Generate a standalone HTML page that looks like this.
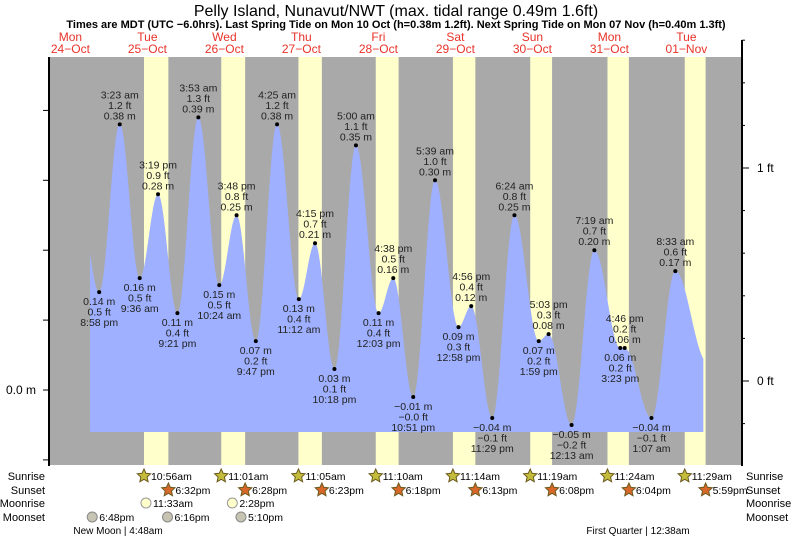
<!DOCTYPE html>
<html><head><meta charset="utf-8"><style>
body{margin:0;background:#fff;}
svg{display:block;font-family:"Liberation Sans",sans-serif;}
</style></head><body>
<svg id="c" width="793" height="539" viewBox="0 0 793 539">
<text x="396" y="16" text-anchor="middle" font-size="16" fill="#000">Pelly Island, Nunavut/NWT (max. tidal range 0.49m 1.6ft)</text>
<text x="396" y="28" text-anchor="middle" font-size="11" font-weight="bold" fill="#000">Times are MDT (UTC −6.0hrs). Last Spring Tide on Mon 10 Oct (h=0.38m 1.2ft). Next Spring Tide on Mon 07 Nov (h=0.40m 1.3ft)</text>
<g id="g"></g>
</svg>
<script>
// time in days since 25-Oct 00:00
const dayNames=["Mon","Tue","Wed","Thu","Fri","Sat","Sun","Mon","Tue"];
const dayDates=["24−Oct","25−Oct","26−Oct","27−Oct","28−Oct","29−Oct","30−Oct","31−Oct","01−Nov"];
const tideTimes=["-1 15:00","-1 20:58","0 03:23","0 09:36","0 15:19","0 21:21","1 03:53","1 10:24","1 15:48","1 21:47","2 04:25","2 11:12","2 16:15","2 22:18","3 05:00","3 12:03","3 16:38","3 22:51","4 05:39","4 12:58","4 16:56","4 23:29","5 06:24","5 13:59","5 17:03","6 00:13","6 07:19","6 15:23","6 16:46","7 01:07","7 08:33","7 18:30"];
const tideHeights=[0.26,0.14,0.38,0.16,0.28,0.11,0.39,0.15,0.25,0.07,0.38,0.13,0.21,0.03,0.35,0.11,0.16,-0.01,0.30,0.09,0.12,-0.04,0.25,0.07,0.08,-0.05,0.20,0.06,0.06,-0.04,0.17,0.04];
const tideTypes=["H","L","H","L","H","L","H","L","H","L","H","L","H","L","H","L","H","L","H","L","H","L","H","L","H","L","H","L","H","L","H","L"];
const tideLabels=["","8:58 pm","3:23 am","9:36 am","3:19 pm","9:21 pm","3:53 am","10:24 am","3:48 pm","9:47 pm","4:25 am","11:12 am","4:15 pm","10:18 pm","5:00 am","12:03 pm","4:38 pm","10:51 pm","5:39 am","12:58 pm","4:56 pm","11:29 pm","6:24 am","1:59 pm","5:03 pm","12:13 am","7:19 am","3:23 pm","4:46 pm","1:07 am","8:33 am",""];
const dataStart="-1 18:07", dataEnd="7 17:17";
const sunrise=["0 10:56","1 11:01","2 11:05","3 11:10","4 11:14","5 11:19","6 11:24","7 11:29"];
const sunriseLbl=["10:56am","11:01am","11:05am","11:10am","11:14am","11:19am","11:24am","11:29am"];
const sunset=["0 18:32","1 18:28","2 18:23","3 18:18","4 18:13","5 18:08","6 18:04","7 17:59"];
const sunsetLbl=["6:32pm","6:28pm","6:23pm","6:18pm","6:13pm","6:08pm","6:04pm","5:59pm"];
const moonrise=["0 11:33","1 14:28"];
const moonriseLbl=["11:33am","2:28pm"];
const moonset=["-1 18:48","0 18:16","1 17:10"];
const moonsetLbl=["6:48pm","6:16pm","5:10pm"];
const mTicks=[-0.1,0,0.1,0.2,0.3,0.4];
const ftTicks=[-0.2,0,0.2,0.4,0.6,0.8,1,1.2,1.4,1.6];

const X0=108.9, PXD=77, L=49, R=742, T=57, B=465, FILLB=432;
const pt=s=>{const [d,hm]=s.split(" ");const [h,m]=hm.split(":");return +d+(+h+ +m/60)/24;};
const x=t=>X0+PXD*t;
const ym=v=>390-699*v;
const yft=v=>381-213*v;
const NS="http://www.w3.org/2000/svg";
const g=document.getElementById("g");
function mk(tag,at,txt){const e=document.createElementNS(NS,tag);for(const k in at)e.setAttribute(k,at[k]);if(txt!==undefined)e.textContent=txt;g.appendChild(e);return e;}

let e=mk("rect",{x:L,y:T,width:R-L,height:B-T,fill:"#a9a9a9"});

for(let i=0;i<sunrise.length;i++){
 const a=x(pt(sunrise[i])),b=x(pt(sunset[i]));
 e=mk("rect",{x:a,y:T,width:b-a,height:B-T,fill:"#ffffcc"});
 
}
const ts=tideTimes.map(pt);
function h(t){for(let i=0;i<ts.length-1;i++){if(t>=ts[i]&&t<=ts[i+1]){const f=(t-ts[i])/(ts[i+1]-ts[i]);return tideHeights[i]+(tideHeights[i+1]-tideHeights[i])*(1-Math.cos(Math.PI*f))/2;}}return tideHeights[tideHeights.length-1];}
const t0=pt(dataStart),t1=pt(dataEnd);
let d=`M${x(t0)},${FILLB}`;
for(let px=x(t0);px<=x(t1);px+=0.5){d+=` L${px.toFixed(1)},${ym(h((px-X0)/PXD)).toFixed(1)}`;}
d+=` L${x(t1)},${ym(h(t1)).toFixed(1)} L${x(t1)},${FILLB} Z`;
e=mk("path",{d:d,fill:"#9eb0ff"});


const fmt=v=>{let s=v.toFixed(1);if(s.startsWith("-"))s="−"+s.slice(1);if(v<0&&s==="0.0")s="−0.0";return s;};
const fmtm=v=>{let s=v.toFixed(2);if(s.startsWith("-"))s="−"+s.slice(1);return s;};
for(let i=1;i<ts.length-1;i++){
 const px=x(ts[i]),py=ym(tideHeights[i]);
 const high=tideTypes[i]==="H";
 e=mk("circle",{cx:px,cy:py,r:2,fill:"#000"});
 
 const lines=high?[tideLabels[i],fmt(tideHeights[i]/0.3048)+" ft",fmtm(tideHeights[i])+" m"]:[fmtm(tideHeights[i])+" m",fmt(tideHeights[i]/0.3048)+" ft",tideLabels[i]];
 lines.forEach((s,k)=>{
  const yy=high?py-5-(2-k)*10.5:py+13+k*10.5;
  e=mk("text",{x:px,y:yy,"text-anchor":"middle","font-size":"10.5",fill:"#222"},s);
  
 });
}
e=mk("line",{x1:L,y1:T,x2:L,y2:B+1,stroke:"#000","stroke-width":2});

e=mk("line",{x1:R,y1:40,x2:R,y2:B+1,stroke:"#000","stroke-width":2});

mTicks.forEach(v=>{e=mk("line",{x1:L-6,y1:ym(v),x2:L,y2:ym(v),stroke:"#000"});
 });
e=mk("text",{x:36,y:ym(0)+4,"text-anchor":"end","font-size":"12",fill:"#000"},"0.0 m");

ftTicks.forEach(v=>{e=mk("line",{x1:R,y1:yft(v),x2:R+(Math.abs(v%1)<1e-9?7:3),y2:yft(v),stroke:"#000"});
 });
e=mk("text",{x:757,y:yft(0)+4,"font-size":"12",fill:"#000"},"0 ft");

e=mk("text",{x:757,y:yft(1)+4,"font-size":"12",fill:"#000"},"1 ft");

dayNames.forEach((n,i)=>{const cx=x(i-1+0.5);
 e=mk("text",{x:cx,y:41,"text-anchor":"middle","font-size":"12",fill:"#e8332a"},n);
 
 e=mk("text",{x:cx,y:53,"text-anchor":"middle","font-size":"12",fill:"#e8332a"},dayDates[i]);
 
});
const rows=["Sunrise","Sunset","Moonrise","Moonset"],ry=[480,494,507,521];
rows.forEach((r,i)=>{
 e=mk("text",{x:45,y:ry[i],"text-anchor":"end","font-size":"11",fill:"#000"},r);
 
 e=mk("text",{x:746,y:ry[i],"font-size":"11",fill:"#000"},r);
 
});
function star(cx,cy,fill){let p="";for(let k=0;k<10;k++){const a=-Math.PI/2+k*Math.PI/5,r=k%2?3.3:7;p+=(cx+r*Math.cos(a)).toFixed(1)+","+(cy+r*Math.sin(a)).toFixed(1)+" ";}
 return mk("polygon",{points:p,fill:fill,stroke:"#6b5a1e","stroke-width":1});}
sunrise.forEach((s,i)=>{const px=x(pt(s));
 e=star(px,ry[0]-4,"#c4bd3c");
 e=mk("text",{x:px+7,y:ry[0],"font-size":"10.5",fill:"#000"},sunriseLbl[i]);});
sunset.forEach((s,i)=>{const px=x(pt(s));
 e=star(px,ry[1]-4,"#d8682a");
 e=mk("text",{x:px+7,y:ry[1],"font-size":"10.5",fill:"#000"},sunsetLbl[i]);});
moonrise.forEach((s,i)=>{const px=x(pt(s));
 e=mk("circle",{cx:px,cy:ry[2]-4,r:5,fill:"#ffffcc",stroke:"#999"});
 e=mk("text",{x:px+7,y:ry[2],"font-size":"10.5",fill:"#000"},moonriseLbl[i]);});
moonset.forEach((s,i)=>{const px=x(pt(s));
 e=mk("circle",{cx:px,cy:ry[3]-4,r:5,fill:"#c8c4b4",stroke:"#888"});
 e=mk("text",{x:px+7,y:ry[3],"font-size":"10.5",fill:"#000"},moonsetLbl[i]);});
e=mk("text",{x:118,y:534,"text-anchor":"middle","font-size":"10",fill:"#000"},"New Moon | 4:48am");

e=mk("text",{x:638,y:534,"text-anchor":"middle","font-size":"10",fill:"#000"},"First Quarter | 12:38am");

</script>
</body></html>
